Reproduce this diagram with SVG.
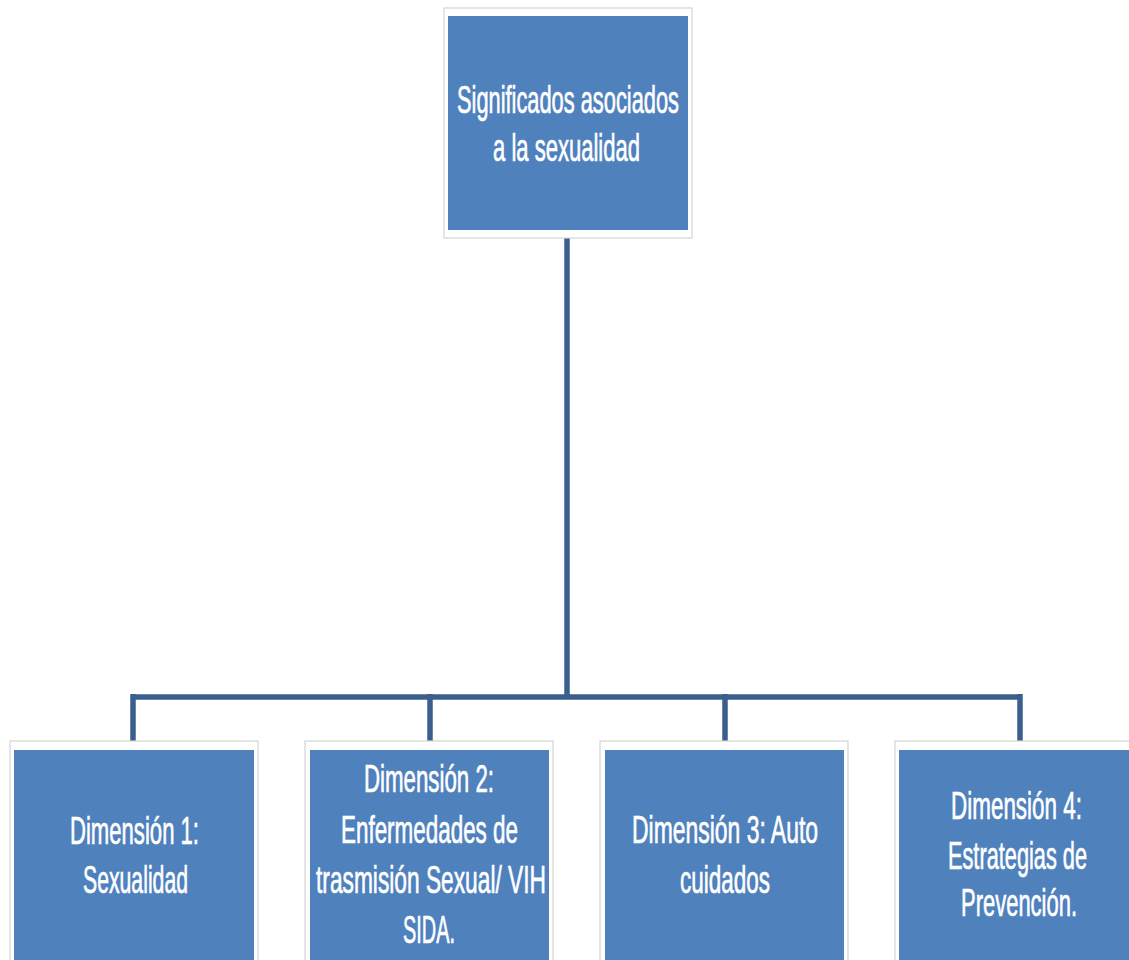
<svg xmlns="http://www.w3.org/2000/svg" width="1129" height="960" viewBox="0 0 1129 960">
  <style>
    .frame { fill: #ffffff; stroke: #d4d4d4; stroke-width: 1.2; }
    .fill { fill: #4f81bd; }
    .lbl { fill: #ffffff; stroke: #ffffff; stroke-width: 0.7; font-family: "Liberation Sans", Arial, sans-serif; font-size: 39px; text-anchor: start; }
    .wire { stroke: #3a5f8c; stroke-width: 5.5; fill: none; }
  </style>
  <rect width="1129" height="960" fill="#ffffff"/>

  <!-- connectors -->
  <g id="connectors">
    <line class="wire" x1="567" y1="238" x2="567" y2="697"/>
    <line class="wire" x1="133" y1="697" x2="1021" y2="697" stroke-width="7"/>
    <line class="wire" x1="133" y1="694" x2="133" y2="742"/>
    <line class="wire" x1="430" y1="694" x2="430" y2="742"/>
    <line class="wire" x1="725" y1="694" x2="725" y2="742"/>
    <line class="wire" x1="1020" y1="694" x2="1020" y2="742"/>
  </g>

  <!-- root node -->
  <g id="root">
    <rect class="frame" x="444" y="8" width="248" height="230"/>
    <rect class="fill" x="448" y="16" width="240" height="214"/>
    <text class="lbl" x="457" y="113" textLength="222" lengthAdjust="spacingAndGlyphs">Significados asociados</text>
    <text class="lbl" x="493" y="161" textLength="147" lengthAdjust="spacingAndGlyphs">a la sexualidad</text>
  </g>

  <!-- dimension 1 -->
  <g id="dim1">
    <rect class="frame" x="10" y="741" width="248" height="230"/>
    <rect class="fill" x="14" y="750" width="240" height="220"/>
    <text class="lbl" x="70" y="844" textLength="129" lengthAdjust="spacingAndGlyphs">Dimensión 1:</text>
    <text class="lbl" x="83" y="893" textLength="105" lengthAdjust="spacingAndGlyphs">Sexualidad</text>
  </g>

  <!-- dimension 2 -->
  <g id="dim2">
    <rect class="frame" x="305" y="741" width="248" height="230"/>
    <rect class="fill" x="310" y="750" width="239" height="220"/>
    <text class="lbl" x="364" y="792" textLength="130" lengthAdjust="spacingAndGlyphs">Dimensión 2:</text>
    <text class="lbl" x="341" y="843" textLength="177" lengthAdjust="spacingAndGlyphs">Enfermedades de</text>
    <text class="lbl" x="316" y="893" textLength="230" lengthAdjust="spacingAndGlyphs">trasmisión Sexual/ VIH</text>
    <text class="lbl" x="403" y="943" textLength="52" lengthAdjust="spacingAndGlyphs">SIDA.</text>
  </g>

  <!-- dimension 3 -->
  <g id="dim3">
    <rect class="frame" x="600" y="741" width="248" height="230"/>
    <rect class="fill" x="605" y="750" width="239" height="220"/>
    <text class="lbl" x="632" y="843" textLength="186" lengthAdjust="spacingAndGlyphs">Dimensión 3: Auto</text>
    <text class="lbl" x="680" y="893" textLength="90" lengthAdjust="spacingAndGlyphs">cuidados</text>
  </g>

  <!-- dimension 4 (runs off the right edge) -->
  <g id="dim4">
    <rect class="frame" x="895" y="741" width="240" height="230"/>
    <rect class="fill" x="899" y="750" width="230" height="210"/>
    <text class="lbl" x="951" y="819" textLength="131" lengthAdjust="spacingAndGlyphs">Dimensión 4:</text>
    <text class="lbl" x="948" y="869" textLength="139" lengthAdjust="spacingAndGlyphs">Estrategias de</text>
    <text class="lbl" x="961" y="916" textLength="116" lengthAdjust="spacingAndGlyphs">Prevención.</text>
  </g>
</svg>
